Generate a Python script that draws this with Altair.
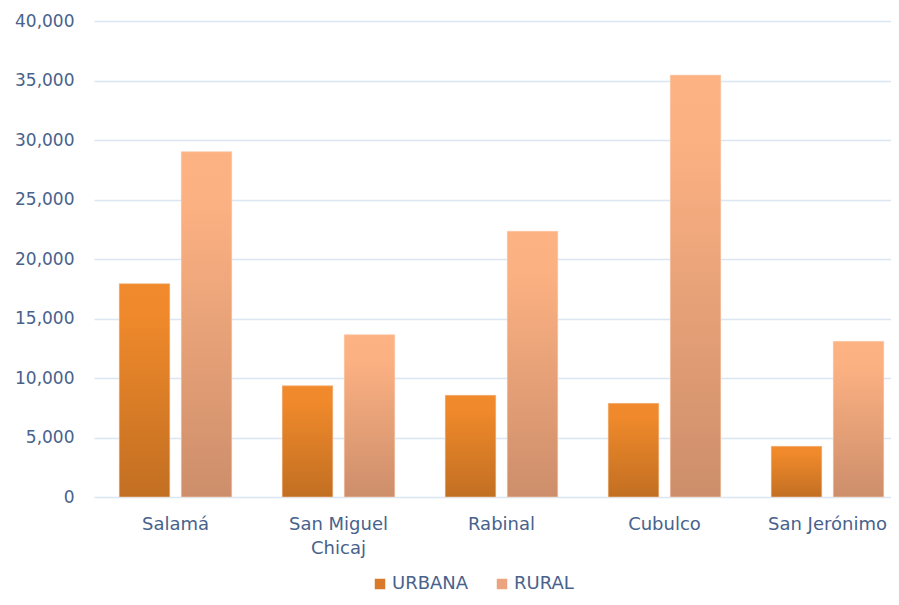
import altair as alt
import pandas as pd

municipios = ["Salamá", "San Miguel Chicaj", "Rabinal", "Cubulco", "San Jerónimo"]
urbana = [17930, 9350, 8550, 7870, 4260]
rural = [29020, 13640, 22330, 35460, 13080]
areas = ["URBANA", "RURAL"]
y_ticks = [0, 5000, 10000, 15000, 20000, 25000, 30000, 35000, 40000]

rows = []
for m, u, r in zip(municipios, urbana, rural):
    rows.append({"municipio": m, "area": "URBANA", "poblacion": u})
    rows.append({"municipio": m, "area": "RURAL", "poblacion": r})
df = pd.DataFrame(rows)

FONT = "DejaVu Sans"
TEXT = "#48628C"

x_enc = alt.X(
    "municipio:N", sort=municipios, title=None,
    scale=alt.Scale(paddingInner=0, paddingOuter=0, range=[0, 815]),
    axis=alt.Axis(
        labelAngle=0, ticks=False, domain=False, labelPadding=18,
        labelFontSize=18, labelColor=TEXT, labelFont=FONT, labelLineHeight=24,
        labelLimit=300,
        labelExpr="datum.value == 'San Miguel Chicaj' ? ['San Miguel', 'Chicaj'] : datum.value",
    ),
)
xo_enc = alt.XOffset(
    "area:N", sort=areas,
    scale=alt.Scale(domain=areas, paddingInner=0.185, paddingOuter=0.407),
)
y_enc = alt.Y(
    "poblacion:Q", title=None,
    scale=alt.Scale(domain=[0, 40000], nice=False),
    axis=alt.Axis(
        values=y_ticks, format=",d", ticks=False, domain=False,
        gridColor="#DCE5F2", gridWidth=1.5, labelPadding=20,
        labelFontSize=17, labelColor=TEXT, labelFont=FONT,
    ),
)

base = alt.Chart(df).mark_bar().encode(
    x=x_enc, xOffset=xo_enc, y=y_enc,
    color=alt.Color(
        "area:N", sort=areas,
        scale=alt.Scale(domain=areas, range=["#D9792A", "#EBA47F"]),
        legend=alt.Legend(
            title=None, orient="none", legendX=277, legendY=554,
            direction="horizontal", columns=2, symbolType="square",
            symbolSize=110, labelFontSize=18, labelColor=TEXT, labelFont=FONT,
            columnPadding=24, labelOffset=3, padding=0, symbolStrokeWidth=0,
        ),
    ),
)

grad_u = alt.LinearGradient(
    gradient="linear", x1=0, x2=0, y1=0, y2=1,
    stops=[
        alt.GradientStop(color="#F08A2C", offset=0),
        alt.GradientStop(color="#EF892B", offset=0.15),
        alt.GradientStop(color="#C26F22", offset=1),
    ],
)
grad_r = alt.LinearGradient(
    gradient="linear", x1=0, x2=0, y1=0, y2=1,
    stops=[
        alt.GradientStop(color="#FDB283", offset=0),
        alt.GradientStop(color="#FCB182", offset=0.15),
        alt.GradientStop(color="#CD8E6B", offset=1),
    ],
)

urb = alt.Chart(df).transform_filter(alt.datum.area == "URBANA").mark_bar(
    fill=grad_u, stroke="#FAD2B0", strokeWidth=0.8, strokeOpacity=0.7
).encode(x=x_enc, xOffset=xo_enc, y=y_enc)

rur = alt.Chart(df).transform_filter(alt.datum.area == "RURAL").mark_bar(
    fill=grad_r, stroke="#FDDCC4", strokeWidth=0.8, strokeOpacity=0.7
).encode(x=x_enc, xOffset=xo_enc, y=y_enc)

chart = alt.layer(base, urb, rur).properties(
    width=797, height=476,
    autosize=alt.AutoSizeParams(type="none"),
    padding={"left": 86, "top": 13, "right": 0, "bottom": 98},
    background="white",
).configure_view(stroke=None)

chart.save("out.html", embed_options={"renderer": "svg", "actions": False})
